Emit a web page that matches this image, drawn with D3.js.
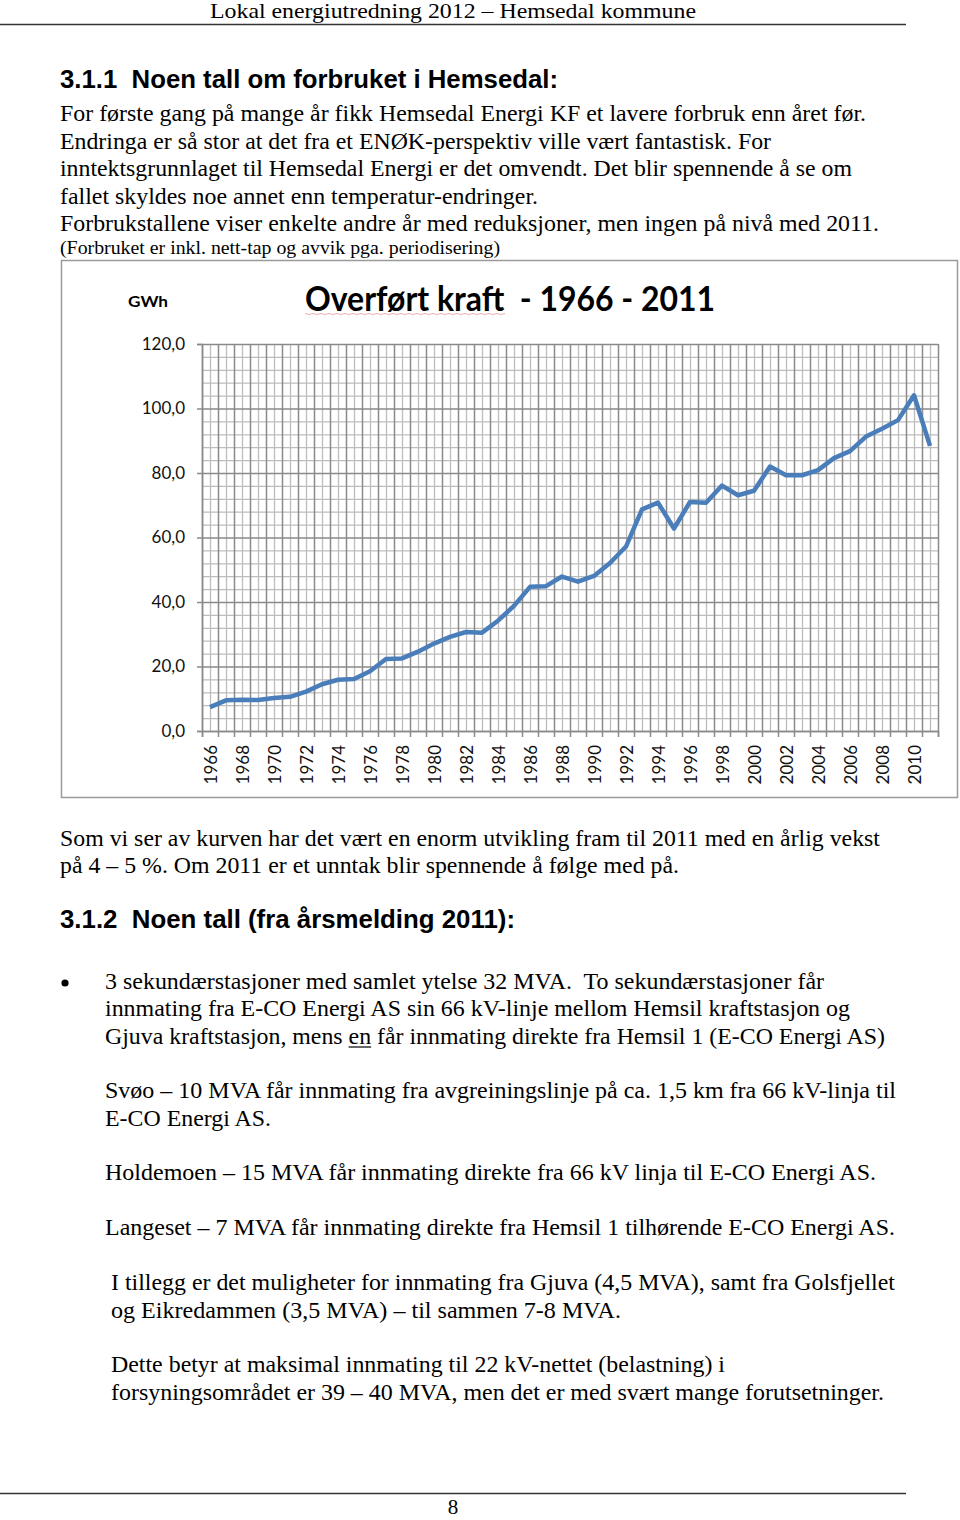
<!DOCTYPE html>
<html>
<head>
<meta charset="utf-8">
<script src="https://cdn.jsdelivr.net/npm/d3@7"></script>
<style>
  html, body { margin: 0; padding: 0; background: #fff; }
  svg { display: block; }
  text { white-space: pre; }
</style>
</head>
<body>
<div id="page"></div>
<script>
// ---------------- DATA ----------------
const years = [1966,1967,1968,1969,1970,1971,1972,1973,1974,1975,
               1976,1977,1978,1979,1980,1981,1982,1983,1984,1985,
               1986,1987,1988,1989,1990,1991,1992,1993,1994,1995,
               1996,1997,1998,1999,2000,2001,2002,2003,2004,2005,
               2006,2007,2008,2009,2010,2011];
const gwh = [7.4, 9.5, 9.7, 9.6, 10.2, 10.6, 12.2, 14.5, 15.9, 16.1,
             18.5, 22.3, 22.5, 24.6, 27.1, 29.2, 30.7, 30.5, 34.2, 38.8,
             44.7, 44.9, 47.9, 46.3, 48.1, 52.1, 57.2, 68.7, 70.8, 62.8,
             71.0, 70.8, 76.1, 73.1, 74.5, 82.0, 79.3, 79.3, 80.9, 84.6,
             86.8, 91.3, 93.7, 96.4, 104.1, 88.4];
const yTicks = [0, 20, 40, 60, 80, 100, 120];
const xLabelYears = [1966,1968,1970,1972,1974,1976,1978,1980,1982,1984,1986,1988,
                     1990,1992,1994,1996,1998,2000,2002,2004,2006,2008,2010];
const chartTitle = "Overført kraft  - 1966 - 2011";
const unitLabel = "GWh";

const headerText = "Lokal energiutredning 2012 – Hemsedal kommune";
const heading1 = "3.1.1  Noen tall om forbruket i Hemsedal:";
const para1 = [
  "For første gang på mange år fikk Hemsedal Energi KF et lavere forbruk enn året før.",
  "Endringa er så stor at det fra et ENØK-perspektiv ville vært fantastisk. For",
  "inntektsgrunnlaget til Hemsedal Energi er det omvendt. Det blir spennende å se om",
  "fallet skyldes noe annet enn temperatur-endringer.",
  "Forbrukstallene viser enkelte andre år med reduksjoner, men ingen på nivå med 2011."
];
const smallNote = "(Forbruket er inkl. nett-tap og avvik pga. periodisering)";
const para2 = [
  "Som vi ser av kurven har det vært en enorm utvikling fram til 2011 med en årlig vekst",
  "på 4 – 5 %. Om 2011 er et unntak blir spennende å følge med på."
];
const heading2 = "3.1.2  Noen tall (fra årsmelding 2011):";
const bulletLines = [
  "3 sekundærstasjoner med samlet ytelse 32 MVA.  To sekundærstasjoner får",
  "innmating fra E-CO Energi AS sin 66 kV-linje mellom Hemsil kraftstasjon og",
  "Gjuva kraftstasjon, mens en får innmating direkte fra Hemsil 1 (E-CO Energi AS)",
  "Svøo – 10 MVA får innmating fra avgreiningslinje på ca. 1,5 km fra 66 kV-linja til",
  "E-CO Energi AS.",
  "Holdemoen – 15 MVA får innmating direkte fra 66 kV linja til E-CO Energi AS.",
  "Langeset – 7 MVA får innmating direkte fra Hemsil 1 tilhørende E-CO Energi AS.",
  "I tillegg er det muligheter for innmating fra Gjuva (4,5 MVA), samt fra Golsfjellet",
  "og Eikredammen (3,5 MVA) – til sammen 7-8 MVA.",
  "Dette betyr at maksimal innmating til 22 kV-nettet (belastning) i",
  "forsyningsområdet er 39 – 40 MVA, men det er med svært mange forutsetninger."
];
const pageNumber = "8";

// ---------------- LAYOUT ----------------
const W = 960, H = 1520;
const svg = d3.select("#page").append("svg").attr("width", W).attr("height", H);

const serif = "'Liberation Serif', 'Times New Roman', serif";
const sans = "'Liberation Sans', Arial, sans-serif";
const chartFont = "Lato, 'Open Sans', sans-serif";

function fitText(sel, x, y, str, size, len, family, weight) {
  const t = sel.append("text")
    .attr("x", x).attr("y", y)
    .attr("font-family", family)
    .attr("font-size", size)
    .attr("font-weight", weight || "normal")
    .attr("fill", "#000")
    .text(str);
  if (len) t.attr("textLength", len).attr("lengthAdjust", "spacingAndGlyphs");
  return t;
}

const bodySize = 23.5;

// header
fitText(svg, 210, 17.5, headerText, 21, 486, serif);
svg.append("line").attr("x1", 0).attr("x2", 906).attr("y1", 24.5).attr("y2", 24.5)
  .attr("stroke", "#333").attr("stroke-width", 1.5);

// heading 1
fitText(svg, 60, 88, heading1, 25.5, 498, sans, "bold");

const p1Base = [121, 149, 176, 204, 231];
const p1Len = [806, 711, 792, 478, 819];
para1.forEach((s, i) => fitText(svg, 60, p1Base[i], s, bodySize, p1Len[i], serif));
fitText(svg, 60, 254, smallNote, 18.5, 440, serif);

// ---------------- CHART ----------------
const box = {x: 61.5, y: 260.5, w: 896, h: 537};
svg.append("rect").attr("x", box.x).attr("y", box.y).attr("width", box.w).attr("height", box.h)
  .attr("fill", "#fff").attr("stroke", "#9a9a9a").attr("stroke-width", 1.5);

const plot = {left: 202, right: 938, top: 344, bottom: 731};
const x = d3.scaleLinear().domain([years[0] - 0.5, years[years.length - 1] + 0.5])
  .range([plot.left, plot.right]);
const y = d3.scaleLinear().domain([0, 120]).range([plot.bottom, plot.top]);

const g = svg.append("g");

// minor horizontal grid (every 4)
const minorY = d3.range(4, 120, 4).filter(v => v % 20 !== 0);
g.append("g").attr("transform", `translate(${plot.left},0)`)
  .call(d3.axisLeft(y).tickValues(minorY).tickSize(-(plot.right - plot.left)).tickFormat(""))
  .call(a => a.select(".domain").remove())
  .call(a => a.selectAll("line").attr("stroke", "#bdbdbd").attr("stroke-width", 1.3));

// minor vertical grid (category centers)
g.append("g").attr("transform", `translate(0,${plot.top})`)
  .call(d3.axisTop(x).tickValues(years).tickSize(-(plot.bottom - plot.top)).tickFormat(""))
  .call(a => a.select(".domain").remove())
  .call(a => a.selectAll("line").attr("stroke", "#bdbdbd").attr("stroke-width", 1.3));

// major horizontal grid
g.append("g").attr("transform", `translate(${plot.left},0)`)
  .call(d3.axisLeft(y).tickValues(yTicks).tickSize(-(plot.right - plot.left)).tickFormat(""))
  .call(a => a.select(".domain").remove())
  .call(a => a.selectAll("line").attr("stroke", "#8a8a8a").attr("stroke-width", 1.5));

// major vertical grid (category boundaries)
const bounds = years.map(v => v - 0.5).concat([years[years.length - 1] + 0.5]);
g.append("g").attr("transform", `translate(0,${plot.top})`)
  .call(d3.axisTop(x).tickValues(bounds).tickSize(-(plot.bottom - plot.top)).tickFormat(""))
  .call(a => a.select(".domain").remove())
  .call(a => a.selectAll("line").attr("stroke", "#8a8a8a").attr("stroke-width", 1.5));

// y axis
const fmt = d => d3.format(".1f")(d).replace(".", ",");
g.append("g").attr("transform", `translate(${plot.left},0)`)
  .call(d3.axisLeft(y).tickValues(yTicks).tickSize(5).tickPadding(12).tickFormat(fmt))
  .call(a => a.select(".domain").attr("stroke", "#8a8a8a").attr("stroke-width", 1.5))
  .call(a => a.selectAll("line").attr("stroke", "#8a8a8a").attr("stroke-width", 1.5))
  .call(a => a.selectAll("text").attr("font-family", chartFont).attr("font-size", 17).attr("fill", "#111"));

// x axis ticks at boundaries
g.append("g").attr("transform", `translate(0,${plot.bottom})`)
  .call(d3.axisBottom(x).tickValues(bounds).tickSize(6).tickFormat(""))
  .call(a => a.select(".domain").attr("stroke", "#8a8a8a").attr("stroke-width", 1.5))
  .call(a => a.selectAll("line").attr("stroke", "#8a8a8a").attr("stroke-width", 1.5));

// x labels
g.append("g").attr("transform", `translate(0,${plot.bottom})`)
  .call(d3.axisBottom(x).tickValues(xLabelYears).tickSize(0).tickFormat(d3.format("d")))
  .call(a => a.select(".domain").remove())
  .call(a => a.selectAll("text")
    .attr("font-family", chartFont).attr("font-size", 17).attr("fill", "#111")
    .attr("text-anchor", "end")
    .attr("transform", "translate(0,14) rotate(-90)")
    .attr("x", 0).attr("y", 0).attr("dy", "0.36em"));

// data line
const line = d3.line().x((d, i) => x(years[i])).y(d => y(d));
g.append("path").datum(gwh)
  .attr("d", line)
  .attr("fill", "none").attr("stroke", "#4a7ebb").attr("stroke-width", 4.5)
  .attr("stroke-linejoin", "round").attr("stroke-linecap", "butt");

// chart title & unit
fitText(svg, 305, 311, chartTitle, 34, 410, chartFont, "bold");
svg.append("path")
  .attr("d", d3.range(305, 508, 4).map((v, i) => (i === 0 ? "M" : "L") + v + "," + (313.5 + (i % 2 ? 1 : 0))).join(""))
  .attr("fill", "none").attr("stroke", "#e59a9a").attr("stroke-width", 0.8);
fitText(svg, 128, 307, unitLabel, 16, 40, chartFont, "bold");

// ---------------- BELOW ----------------
const p2Base = [846, 873];
const p2Len = [820, 619];
para2.forEach((s, i) => fitText(svg, 60, p2Base[i], s, bodySize, p2Len[i], serif));

fitText(svg, 60, 928, heading2, 25.5, 455, sans, "bold");

svg.append("circle").attr("cx", 65).attr("cy", 983).attr("r", 3.6).attr("fill", "#000");

const bX = [105,105,105,105,105,105,105,111,111,111,111];
const bBase = [989,1016,1044,1098,1126,1180,1235,1290,1318,1372,1400];
const bLen = [719,745,780,791,166,771,790,784,510,614,773];
bulletLines.forEach((s, i) => fitText(svg, bX[i], bBase[i], s, bodySize, bLen[i], serif));

// underline "en" in third bullet line
{
  const t = svg.selectAll("text").filter(function() { return d3.select(this).text() === bulletLines[2]; }).node();
  const idx = bulletLines[2].indexOf(" en ") + 1;
  const s = t.getStartPositionOfChar(idx).x, e = t.getEndPositionOfChar(idx + 1).x;
  svg.append("line").attr("x1", s).attr("x2", e).attr("y1", 1047).attr("y2", 1047)
    .attr("stroke", "#000").attr("stroke-width", 1.2);
}

// footer
svg.append("line").attr("x1", 0).attr("x2", 906).attr("y1", 1493.5).attr("y2", 1493.5)
  .attr("stroke", "#333").attr("stroke-width", 1.5);
fitText(svg, 453, 1514, pageNumber, 21, null, serif).attr("text-anchor", "middle");
</script>
</body>
</html>
